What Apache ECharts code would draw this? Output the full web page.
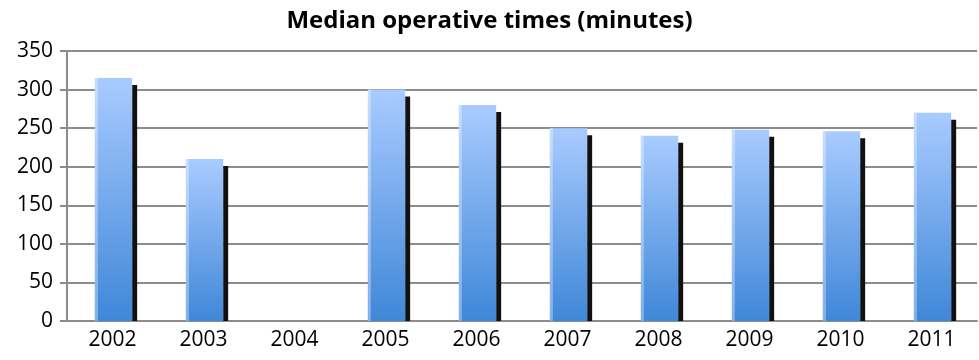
<!DOCTYPE html>
<html lang="en">
<head>
    <meta charset="UTF-8">
    <title>Median operative times</title>
    <script src="https://cdn.jsdelivr.net/npm/echarts@6/dist/echarts.min.js"></script>
    <style>
        body, html { margin: 0; padding: 0; background: #fff; }
        #chart { width: 979px; height: 360px; }
    </style>
</head>
<body>
    <div id="chart"></div>
    <script>
        // data (2004 has no bar)
        var years = ['2002', '2003', '2004', '2005', '2006', '2007', '2008', '2009', '2010', '2011'];
        var medianMinutes = [315, 210, null, 300, 280, 250, 240, 248, 246, 270];
        var yTicks = { min: 0, max: 350, interval: 50 };

        var chart = echarts.init(document.getElementById('chart'));

        // bar with a dark drop shadow on its right side
        function renderBar(params, api) {
            var v = api.value(1);
            if (v == null || isNaN(v)) return;
            var base = api.coord([api.value(0), 0]);
            var top = api.coord([api.value(0), v]);
            var band = api.size([1, 0])[0];
            var w = band * 0.41;
            var x = base[0] - w / 2 + 1;
            return {
                type: 'group',
                children: [
                    {
                        type: 'rect',
                        shape: { x: x + w, y: top[1] + 7, width: 5, height: base[1] - top[1] - 7 },
                        style: { fill: '#111' }
                    },
                    {
                        type: 'rect',
                        shape: { x: x, y: top[1], width: w, height: base[1] - top[1] },
                        style: {
                            fill: new echarts.graphic.LinearGradient(0, 0, 0, 1, [
                                { offset: 0, color: '#a9cbff' },
                                { offset: 1, color: '#3f87d8' }
                            ])
                        }
                    },
                    {
                        type: 'rect',
                        shape: { x: x, y: top[1], width: 3, height: base[1] - top[1] },
                        style: { fill: 'rgba(255,255,255,0.35)' }
                    }
                ]
            };
        }

        var option = {
            backgroundColor: '#fff',
            animation: false,
            title: {
                text: 'Median operative times (minutes)',
                left: 'center',
                top: 4,
                textStyle: { fontFamily: 'Open Sans', fontWeight: 'bold', fontSize: 24, color: '#000' }
            },
            grid: { left: 67, right: 2, top: 51, bottom: 39 },
            xAxis: {
                type: 'category',
                data: years,
                axisLine: { lineStyle: { color: '#8c8c8c', width: 2 } },
                axisTick: { length: 7, lineStyle: { color: '#8c8c8c', width: 2 } },
                axisLabel: { color: '#000', fontSize: 21, fontFamily: 'Open Sans', margin: 9 }
            },
            yAxis: {
                type: 'value',
                min: yTicks.min,
                max: yTicks.max,
                interval: yTicks.interval,
                axisLine: { show: true, lineStyle: { color: '#8c8c8c', width: 2 } },
                axisTick: { show: true, length: 7, lineStyle: { color: '#8c8c8c', width: 2 } },
                axisLabel: { color: '#000', fontSize: 21, fontFamily: 'Open Sans', margin: 14 },
                splitLine: { lineStyle: { color: '#8c8c8c', width: 2 } }
            },
            series: [{
                type: 'custom',
                renderItem: renderBar,
                encode: { x: 0, y: 1 },
                data: years.map(function (y, i) { return [i, medianMinutes[i]]; })
            }]
        };

        chart.setOption(option);
    </script>
</body>
</html>
